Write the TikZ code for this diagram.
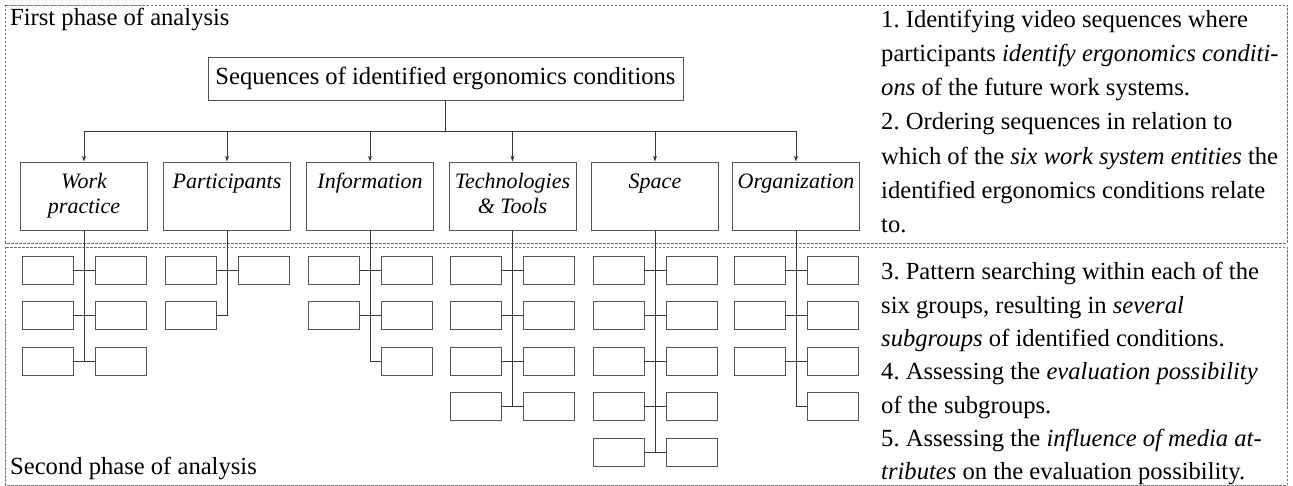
\documentclass[tikz,border=0pt]{standalone}
\usepackage{fontspec}
\setmainfont{Liberation Serif}
\frenchspacing
\usetikzlibrary{arrows.meta,positioning}

\tikzset{
  phase/.style={draw=col_frame,line width=0.8pt,dash pattern=on 2.5pt off 1.5pt},
  mainbox/.style={draw=col_box,line width=0.9pt,minimum width=475pt,minimum height=43pt,inner sep=0pt,font=\fontsize{24.6}{28}\selectfont},
  catbox/.style={draw=col_box,line width=0.9pt,minimum width=127pt,minimum height=68pt,inner sep=0pt,align=center,font=\fontsize{22}{25}\selectfont\itshape},
  subbox/.style={draw=col_box,line width=0.9pt,minimum width=51pt,minimum height=28pt,inner sep=0pt},
  link/.style={draw=col_line,line width=0.8pt},
  arr/.style={link,-{Stealth[length=6pt,width=4pt]}},
  phasetitle/.style={anchor=base west,inner sep=0pt,font=\fontsize{24.6}{28}\selectfont},
  steps/.style={anchor=north west,inner sep=0pt,align=left},
}

\begin{document}
\begin{tikzpicture}[x=1pt,y=-1pt]
    \definecolor{col_frame}{HTML}{707070} % dashed phase frames
    \definecolor{col_box}{HTML}{555555}   % box outlines
    \definecolor{col_line}{HTML}{383838}  % connectors
    \useasboundingbox (0,0) rectangle (1293,486);
    % the two phases
    \draw[phase] (5,5) rectangle (1287,243);
    \draw[phase] (5,247) rectangle (1287,485);
    \node[phasetitle] (first) at (10,26) {First phase of analysis};
    \node[phasetitle] (second) at (10,474) {Second phase of analysis};
    % first phase: root and the six work system entities
    \node[mainbox] (seq) at (445.5,78.5) {Sequences of identified ergonomics conditions};
    \coordinate (bus) at (445.5,131);
    \node[catbox] (wp) at (84,196) {\strut Work\\\strut practice};
    \node[catbox] (pa) at (227,196) {\strut Participants\\\strut};
    \node[catbox] (info) at (370,196) {\strut Information\\\strut};
    \node[catbox] (tt) at (512.5,196) {\strut Technologies\\\strut\&\ Tools};
    \node[catbox] (sp) at (655,196) {\strut Space\\\strut};
    \node[catbox] (og) at (796,196) {\strut Organization\\\strut};
    \draw[link] (seq) -- (bus);
    \draw[link] (wp |- bus) -- (og |- bus);
    \foreach \c in {wp,pa,info,tt,sp,og}
        \draw[arr] (\c |- bus) -- (\c);
    % second phase: subgroups
    \foreach \r/\y in {1/270,2/315,3/361} {
        \node[subbox] (wp-l\r) at (47.5,\y) {};
        \node[subbox] (wp-r\r) at (120.5,\y) {};
        \draw[link] (wp-l\r) -- (wp-r\r);
    }
    \draw[link] (wp) -- (wp |- wp-l3);
    \node[subbox] (pa-l1) at (190.5,270) {};
    \node[subbox] (pa-r1) at (263.5,270) {};
    \node[subbox] (pa-l2) at (190.5,315) {};
    \draw[link] (pa-l1) -- (pa-r1);
    \draw[link] (pa) -- (pa |- pa-l2) -- (pa-l2);
    \foreach \r/\y in {1/270,2/315} {
        \node[subbox] (info-l\r) at (333.5,\y) {};
        \node[subbox] (info-r\r) at (406.5,\y) {};
        \draw[link] (info-l\r) -- (info-r\r);
    }
    \node[subbox] (info-r3) at (406.5,361) {};
    \draw[link] (info) -- (info |- info-r3) -- (info-r3);
    \foreach \r/\y in {1/270,2/315,3/361,4/406} {
        \node[subbox] (tt-l\r) at (476,\y) {};
        \node[subbox] (tt-r\r) at (549,\y) {};
        \draw[link] (tt-l\r) -- (tt-r\r);
    }
    \draw[link] (tt) -- (tt |- tt-l4);
    \foreach \r/\y in {1/270,2/315,3/361,4/406,5/452} {
        \node[subbox] (sp-l\r) at (618.5,\y) {};
        \node[subbox] (sp-r\r) at (691.5,\y) {};
        \draw[link] (sp-l\r) -- (sp-r\r);
    }
    \draw[link] (sp) -- (sp |- sp-l5);
    \foreach \r/\y in {1/270,2/315,3/361} {
        \node[subbox] (og-l\r) at (759.5,\y) {};
        \node[subbox] (og-r\r) at (832.5,\y) {};
        \draw[link] (og-l\r) -- (og-r\r);
    }
    \node[subbox] (og-r4) at (832.5,406) {};
    \draw[link] (og) -- (og |- og-r4) -- (og-r4);
    % steps of the analysis
    \node[steps,font=\fontsize{24.6}{34.3}\selectfont] (steps12) at (881,9.5) {1. Identifying video sequences where\\participants \textit{identify ergonomics conditi-}\\\textit{ons} of the future work systems.\\2. Ordering sequences in relation to\\which of the \textit{six work system entities} the\\identified ergonomics conditions relate\\to.};
    \node[steps,font=\fontsize{24.6}{33.3}\selectfont] (steps345) at (881,262.3) {3. Pattern searching within each of the\\six groups, resulting in \textit{several}\\\textit{subgroups} of identified conditions.\\4. Assessing the \textit{evaluation possibility}\\of the subgroups.\\5. Assessing the \textit{influence of media at-}\\\textit{tributes} on the evaluation possibility.};
\end{tikzpicture}
\end{document}
